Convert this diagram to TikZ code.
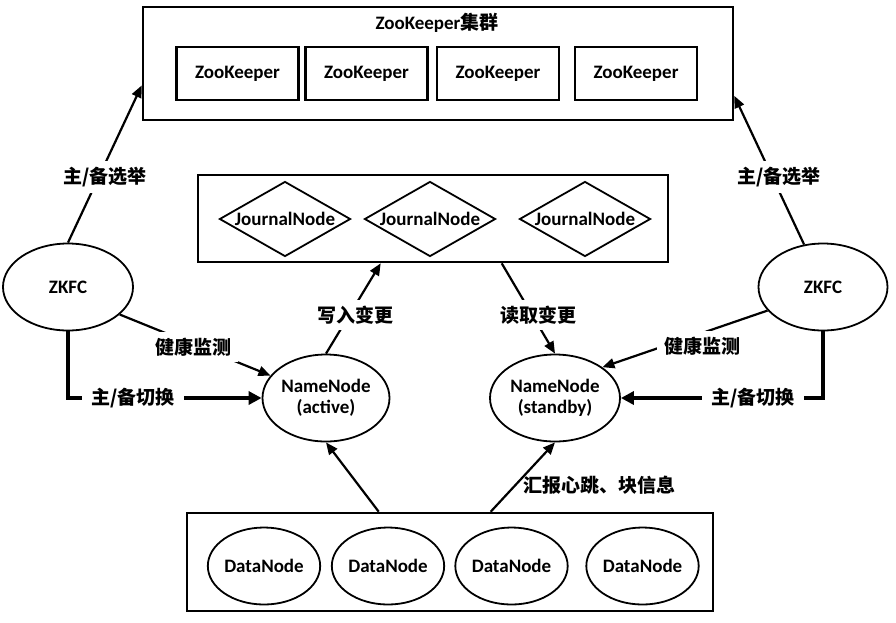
\documentclass[tikz,border=0pt]{standalone}
\usepackage{fontspec}
\setmainfont{Carlito}
\newfontfamily\cjk{Noto Sans CJK SC}
\usetikzlibrary{shapes.geometric,arrows.meta,calc}
\begin{document}
\begin{tikzpicture}[x=1pt,y=-1pt,
  every node/.style={font=\fontsize{19}{21}\selectfont\bfseries, inner sep=0pt},
  frame/.style={draw, line width=2.6pt},
  zkbox/.style={draw, line width=2.6pt, minimum width=122pt, minimum height=53pt},
  jn/.style={draw, diamond, line width=1.8pt, minimum width=131pt, minimum height=75pt},
  oval/.style={draw, ellipse, line width=1.8pt},
  arr/.style={line width=2.2pt, -{Triangle[length=12pt,width=10pt]}},
  thickarr/.style={line width=4.5pt, -{Triangle[length=13pt,width=13pt]}},
  lbl/.style={fill=white, inner xsep=7pt, inner ysep=6pt}
]
\useasboundingbox (0,0) rectangle (896,622);

% ZooKeeper cluster
\node[frame, minimum width=590pt, minimum height=113pt] (zkc) at (438,63.5) {};
\node (zkt) at (437,23) {ZooKeeper{\cjk 集群}};
\node[zkbox] (zk1) at (237.5,73.5) {ZooKeeper};
\node[zkbox] (zk2) at (366.5,73.5) {ZooKeeper};
\node[zkbox] (zk3) at (498,73.5) {ZooKeeper};
\node[zkbox] (zk4) at (636,73.5) {ZooKeeper};

% JournalNode group
\node[frame, minimum width=470pt, minimum height=87pt] (jbox) at (433,218.5) {};
\node[jn] (jn1) at (285,219) {\makebox[0pt]{JournalNode}};
\node[jn] (jn2) at (430,219) {\makebox[0pt]{JournalNode}};
\node[jn] (jn3) at (585,219) {\makebox[0pt]{JournalNode}};

% ZKFC
\node[oval, minimum width=130pt, minimum height=87pt] (zkfcL) at (68,287) {ZKFC};
\node[oval, minimum width=129pt, minimum height=87pt] (zkfcR) at (823,287) {ZKFC};

% NameNodes
\node[oval, minimum width=127pt, minimum height=87pt, align=center] (nnA) at (326,398) {NameNode\\(active)};
\node[oval, minimum width=130pt, minimum height=87pt, align=center] (nnS) at (555,398) {NameNode\\(standby)};

% DataNodes
\node[frame, minimum width=526pt, minimum height=98pt] (dbox) at (450,562) {};
\node[oval, minimum width=112pt, minimum height=77pt] (dn1) at (264,566) {DataNode};
\node[oval, minimum width=112pt, minimum height=77pt] (dn2) at (388,566) {DataNode};
\node[oval, minimum width=108pt, minimum height=77pt] (dn3) at (511.5,566) {DataNode};
\node[oval, minimum width=111pt, minimum height=77pt] (dn4) at (642.5,566) {DataNode};

% anchor points on boxes
\coordinate (zkinL) at ($(zkc.south west)!0.31!(zkc.north west)$);
\coordinate (zkinR) at ($(zkc.south east)!0.22!(zkc.north east)$);
\coordinate (jwrite) at ($(jbox.south west)+(184,0)$);
\coordinate (jread) at ($(jbox.south west)+(305,0)$);
\coordinate (dout1) at ($(dbox.north west)+(193,0)$);
\coordinate (dout2) at ($(dbox.north west)+(305,0)$);

% election
\draw[arr] (zkfcL.north) -- (zkinL);
\node[lbl] (elL) at (105,177) {\cjk 主/备选举};
\draw[arr] (zkfcR.114) -- (zkinR);
\node[lbl] (elR) at (779,177) {\cjk 主/备选举};

% health monitoring
\draw[arr] (zkfcL.-28) -- (nnA.158);
\node[lbl] (hmL) at (193,347) {\cjk 健康监测};
\draw[arr] (zkfcR.203) -- (nnS.33);
\node[lbl] (hmR) at (702,346) {\cjk 健康监测};

% switch
\draw[thickarr] (zkfcL.south) |- (nnA.west);
\node[lbl, inner xsep=9pt] (swL) at (133,398) {\cjk 主/备切换};
\draw[thickarr] (zkfcR.south) |- (nnS.east);
\node[lbl, inner xsep=9pt] (swR) at (753,398) {\cjk 主/备切换};

% journal write / read
\draw[arr] (nnA.north) -- (jwrite);
\node[lbl] (wr) at (355,315) {\cjk 写入变更};
\draw[arr] (jread) -- (nnS.north);
\node[lbl] (rd) at (538,315) {\cjk 读取变更};

% heartbeat
\draw[arr] (dout1) -- (nnA.south);
\draw[arr] (dout2) -- (nnS.south);
\node[anchor=west] (hb) at (523,485) {\cjk 汇报心跳、块信息};
\end{tikzpicture}
\end{document}
